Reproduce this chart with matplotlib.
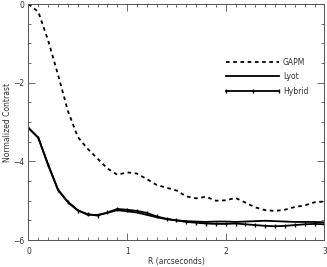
import numpy as np
import matplotlib
matplotlib.use("Agg")
from matplotlib import pyplot as plt
from matplotlib.ticker import MultipleLocator

# radius in arcseconds
r = [0.0, 0.1, 0.2, 0.3, 0.4, 0.5, 0.6, 0.7, 0.8, 0.9, 1.0,
     1.1, 1.2, 1.3, 1.4, 1.5, 1.6, 1.7, 1.8, 1.9, 2.0,
     2.1, 2.2, 2.3, 2.4, 2.5, 2.6, 2.7, 2.8, 2.9, 3.0]

gapm = [0.0, -0.2, -0.93, -1.8, -2.72, -3.38, -3.68, -3.93, -4.18, -4.34, -4.28,
        -4.31, -4.45, -4.6, -4.67, -4.74, -4.89, -4.94, -4.9, -5.0, -4.99,
        -4.93, -5.05, -5.17, -5.24, -5.26, -5.23, -5.16, -5.12, -5.04, -5.02]

lyot = [-3.15, -3.4, -4.08, -4.72, -5.03, -5.24, -5.36, -5.36, -5.31, -5.24, -5.27,
        -5.3, -5.36, -5.42, -5.47, -5.5, -5.52, -5.53, -5.54, -5.53, -5.53,
        -5.54, -5.53, -5.52, -5.51, -5.52, -5.53, -5.54, -5.54, -5.54, -5.55]

hybrid = [-3.15, -3.4, -4.1, -4.73, -5.04, -5.25, -5.34, -5.38, -5.3, -5.21, -5.23,
          -5.26, -5.31, -5.4, -5.46, -5.5, -5.54, -5.56, -5.58, -5.59, -5.59,
          -5.58, -5.6, -5.62, -5.64, -5.65, -5.64, -5.62, -5.6, -5.59, -5.6]

axis_col = "#555555"
txt_col = "#333333"

fig = plt.figure(figsize=(3.27, 2.67), dpi=100)
ax = fig.add_axes([0.087, 0.101, 0.905, 0.884])

ax.plot(r, gapm, color="black", lw=1.3, ls=(0, (2, 2)), label="GAPM")
ax.plot(r, lyot, color="black", lw=1.3, label="Lyot")
ax.plot(r, hybrid, color="black", lw=1.3, marker="|", markersize=3,
        markeredgewidth=1.0, label="Hybrid")

ax.set_xlim(0, 3)
ax.set_ylim(-6, 0)
ax.xaxis.set_major_locator(MultipleLocator(1))
ax.xaxis.set_minor_locator(MultipleLocator(0.1))
ax.yaxis.set_major_locator(MultipleLocator(2))
ax.yaxis.set_minor_locator(MultipleLocator(0.5))
ax.tick_params(which="both", direction="in", top=True, right=True,
               colors=axis_col, labelsize=5.5, labelcolor=txt_col, width=0.6)
ax.tick_params(which="major", length=5)
ax.tick_params(which="minor", length=2.5)
ax.tick_params(axis="x", which="major", pad=5)
ax.tick_params(axis="y", which="major", pad=3)
for s in ax.spines.values():
    s.set_color(axis_col)
    s.set_linewidth(0.7)

ax.set_xlabel("R (arcseconds)", fontsize=5.5, color=txt_col, labelpad=1)
ax.set_ylabel("Normalized Contrast", fontsize=5.5, color=txt_col, labelpad=1)

leg = ax.legend(loc="upper left", bbox_to_anchor=(0.65, 0.785), frameon=False,
                fontsize=5.5, handlelength=7.5, handletextpad=0.25,
                labelspacing=0.7, numpoints=3, borderaxespad=0)
for t in leg.get_texts():
    t.set_color(txt_col)

fig.savefig("out.png", dpi=100)
